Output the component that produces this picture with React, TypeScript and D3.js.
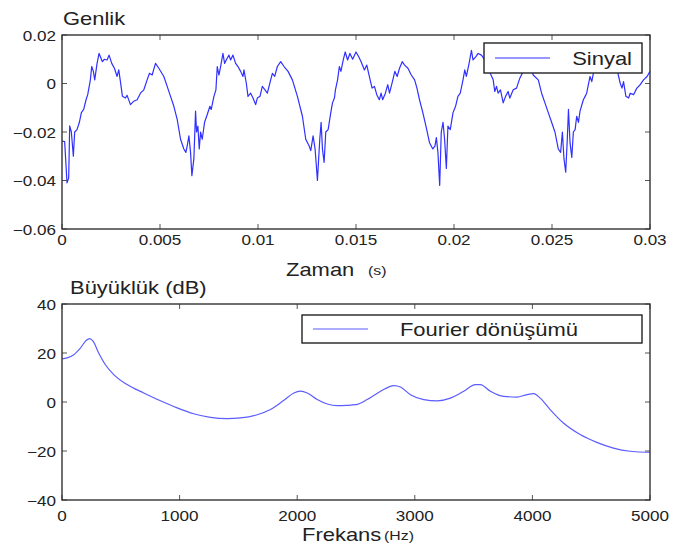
import React, { useRef, useEffect } from 'react';
import * as d3 from 'd3';

// Sinyal (time domain)
const zaman = [
  0, 0.000136, 0.000256, 0.000341, 0.000392, 0.000477, 0.000579, 0.000647, 0.000767, 0.000886,
  0.000988, 0.001107, 0.001227, 0.001312, 0.001448, 0.001516, 0.001601, 0.00167, 0.001789, 0.001891,
  0.001959, 0.002061, 0.002164, 0.0023, 0.002402, 0.002538, 0.002675, 0.002811, 0.002896, 0.002981,
  0.003083, 0.003237, 0.003322, 0.003492, 0.003663, 0.003833, 0.004003, 0.004174, 0.004344, 0.004463,
  0.0046, 0.00477, 0.00494, 0.005196, 0.005366, 0.005537, 0.005707, 0.005877, 0.006048, 0.006218,
  0.00632, 0.006388, 0.006474, 0.006559, 0.006627, 0.006729, 0.006814, 0.006865, 0.006934, 0.007002,
  0.00707, 0.007155, 0.007274, 0.007411, 0.007547, 0.007615, 0.007751, 0.007853, 0.007922, 0.008007,
  0.008092, 0.008211, 0.008296, 0.008399, 0.008518, 0.008603, 0.008722, 0.008859, 0.008978, 0.009114,
  0.009233, 0.009284, 0.009404, 0.009489, 0.009625, 0.009744, 0.009881, 0.009966, 0.010102, 0.010221,
  0.010358, 0.010477, 0.010647, 0.010733, 0.010852, 0.010988, 0.011158, 0.011329, 0.011533, 0.011755,
  0.01201, 0.012266, 0.012436, 0.012606, 0.012692, 0.012811, 0.012913, 0.013032, 0.013152, 0.01322,
  0.013288, 0.013373, 0.013458, 0.013578, 0.013714, 0.0138, 0.0139, 0.01395, 0.01406, 0.01415,
  0.01423, 0.01435, 0.01445, 0.01457, 0.01469, 0.01483, 0.015, 0.01514, 0.01526, 0.01543,
  0.01555, 0.01568, 0.01582, 0.01594, 0.01606, 0.01619, 0.01628, 0.01636, 0.0165, 0.01662,
  0.01671, 0.01688, 0.01698, 0.0171, 0.01722, 0.01736, 0.01748, 0.01765, 0.01782, 0.01799,
  0.01811, 0.01824, 0.01841, 0.01858, 0.01875, 0.01892, 0.01903, 0.0191, 0.01918, 0.01927,
  0.01935, 0.01944, 0.01952, 0.01961, 0.01969, 0.01981, 0.01995, 0.02008, 0.0202, 0.02032,
  0.02046, 0.02055, 0.02063, 0.02077, 0.02089, 0.02097, 0.02111, 0.02123, 0.0214, 0.02157,
  0.02172, 0.02186, 0.022, 0.02208, 0.02217, 0.02225, 0.02237, 0.02251, 0.02263, 0.02276,
  0.02285, 0.02302, 0.02319, 0.02336, 0.02353, 0.0237, 0.02387, 0.02404, 0.0243, 0.02447,
  0.02464, 0.02481, 0.02498, 0.02515, 0.02532, 0.02544, 0.02553, 0.02561, 0.0257, 0.02578,
  0.02584, 0.02592, 0.02601, 0.02609, 0.02618, 0.02626, 0.02635, 0.02643, 0.0266, 0.02669,
  0.02677, 0.02694, 0.02703, 0.02711, 0.02725, 0.0274, 0.02755, 0.0277, 0.02785, 0.028,
  0.02815, 0.02834, 0.02848, 0.02857, 0.02865, 0.02877, 0.02891, 0.02899, 0.02916, 0.02933,
  0.0295, 0.02967, 0.02985, 0.03,
];
const genlik = [
  -0.0237, -0.024, -0.041, -0.039, -0.0175, -0.02, -0.03, -0.02, -0.019, -0.016,
  -0.012, -0.0107, -0.0067, -0.0046, 0.0015, 0.007, 0.005, 0.0015, 0.0083, 0.0124,
  0.011, 0.009, 0.01, 0.0097, 0.0117, 0.0083, 0.0063, 0.0029, 0.0056, 0.0008,
  -0.0053, -0.006, -0.0049, -0.0087, -0.0073, -0.0067, -0.004, -0.0026, 0.0015, 0.0042,
  0.0035, 0.0083, 0.0063, 0.0029, -0.0012, -0.0053, -0.0094, -0.0148, -0.023, -0.027,
  -0.0284, -0.0257, -0.0216, -0.0284, -0.038, -0.031, -0.0114, -0.02, -0.0176, -0.027,
  -0.02, -0.023, -0.016, -0.0128, -0.0094, -0.0107, -0.0053, -0.0026, 0.007, 0.0035,
  0.007, 0.0124, 0.0083, 0.01, 0.0117, 0.0097, 0.0117, 0.0083, 0.007, 0.005,
  0.0029, 0.0056, 0.0001, -0.0053, -0.004, -0.006, -0.0087, -0.006, -0.0053, -0.0012,
  -0.0026, -0.004, 0.0015, 0.0042, 0.0029, 0.007, 0.009, 0.007, 0.005, 0.0015,
  -0.0053, -0.0135, -0.023, -0.0257, -0.0277, -0.0216, -0.027, -0.04, -0.023, -0.016,
  -0.027, -0.0325, -0.02, -0.019, -0.012, -0.008, -0.006, -0.0026, 0.0015, 0.007,
  0.005, 0.0097, 0.013, 0.0097, 0.0124, 0.01, 0.013, 0.011, 0.009, 0.0056,
  0.0076, 0.0029, -0.0019, -0.0012, -0.0046, -0.0067, -0.004, -0.0067, -0.004, -0.0005,
  -0.004, 0.0015, 0.005, 0.0029, 0.0063, 0.009, 0.0076, 0.0063, 0.0035, 0.0015,
  -0.0019, -0.0067, -0.012, -0.018, -0.0244, -0.027, -0.0257, -0.0223, -0.0284, -0.042,
  -0.02, -0.016, -0.023, -0.035, -0.0176, -0.019, -0.012, -0.0094, -0.0053, -0.004,
  0.0015, 0.0056, 0.0029, 0.0083, 0.0137, 0.0097, 0.011, 0.0124, 0.0117, 0.0097,
  0.007, 0.004, 0.0015, -0.0033, -0.0012, -0.004, -0.0026, -0.008, -0.0053, -0.0033,
  -0.006, -0.0026, -0.0019, 0.0022, 0.005, 0.008, 0.009, 0.0035, 0.0015, -0.004,
  -0.008, -0.012, -0.016, -0.02, -0.027, -0.0284, -0.02, -0.031, -0.0366, -0.023,
  -0.0107, -0.0244, -0.0305, -0.02, -0.019, -0.0135, -0.016, -0.0114, -0.0067, -0.0053,
  -0.004, 0.0029, 0.0008, 0.0042, 0.008, 0.011, 0.0095, 0.0125, 0.011, 0.012,
  0.009, 0.005, 0.0001, -0.0019, 0.0008, -0.0053, -0.006, -0.004, -0.0046, -0.0019,
  -0.0005, 0.0015, 0.0029, 0.005,
];

// Fourier dönüşümü (magnitude spectrum)
const frekans = [
  0, 43, 100, 156, 207, 235, 264, 312, 369, 440, 553, 695, 837, 979, 1120, 1262, 1404, 1518,
  1660, 1773, 1887, 1972, 2028, 2085, 2170, 2255, 2340, 2420, 2500, 2595, 2709, 2822, 2878,
  2963, 3076, 3190, 3303, 3416, 3515, 3557, 3642, 3755, 3868, 3953, 4010, 4066, 4151, 4264,
  4406, 4547, 4689, 4830, 4972, 5000,
];
const buyukluk = [
  17.6, 18.0, 19.3, 22.0, 25.2, 25.9, 24.8, 20.0, 15.2, 11.2, 7.1, 3.7, 0.5, -2.4, -4.8, -6.3, -6.8, -6.5,
  -5.2, -3.1, 0.7, 3.7, 4.4, 3.7, 1.0, -0.8, -1.5, -1.4, -1.1, 1.0, 4.4, 6.7, 6.1,
  3.0, 1.0, 0.5, 1.6, 4.4, 7.1, 7.1, 4.4, 2.3, 2.0, 3.0, 3.4, 1.6, -3.1, -8.6,
  -13.3, -16.5, -18.8, -20.1, -20.5, -20.5,
];

const zamanTicks = [0, 0.005, 0.01, 0.015, 0.02, 0.025, 0.03];
const genlikTicks = [0.02, 0, -0.02, -0.04, -0.06];
const frekansTicks = [0, 1000, 2000, 3000, 4000, 5000];
const buyuklukTicks = [40, 20, 0, -20, -40];

const W = 673;
const H = 550;
const FONT = '"Liberation Sans", Arial, sans-serif';
const SX = 1.22; // the reference text is horizontally stretched

const fmt = (v: number) => {
  const s = v === 0 ? '0' : String(Math.abs(v));
  return v < 0 ? '\u2212' + s : s;
};

type Panel = {
  x: number[];
  y: number[];
  xDomain: [number, number];
  yDomain: [number, number];
  xTicks: number[];
  yTicks: number[];
  top: number;
  height: number;
  tickLabelY: number;
  stroke: string;
  strokeWidth: number;
  smooth: boolean;
  title: string;
  titleX: number;
  xLabel: string;
  xUnit: string;
  xLabelX: number;
  xUnitX: number;
  xLabelY: number;
  legend: string;
  legendBox: [number, number, number, number];
  legendLine: [number, number];
  legendTextX: number;
};

const App = () => {
  const svgRef = useRef<SVGSVGElement | null>(null);

  useEffect(() => {
    if (!svgRef.current) return;
    const svg = d3.select(svgRef.current);
    svg.selectAll('*').remove();

    const left = 62;
    const right = 650;

    const addText = (
      g: d3.Selection<SVGGElement, unknown, null, undefined>,
      x: number, y: number, txt: string, size: number, anchor = 'start'
    ) => {
      g.append('text')
        .attr('transform', `translate(${x},${y}) scale(${SX},1)`)
        .attr('text-anchor', anchor)
        .attr('font-size', size)
        .attr('font-family', FONT)
        .attr('fill', '#222')
        .text(txt);
    };

    const panels: Panel[] = [
      {
        x: zaman, y: genlik, xDomain: [0, 0.03], yDomain: [-0.06, 0.02],
        xTicks: zamanTicks, yTicks: genlikTicks, top: 35, height: 194, tickLabelY: 245,
        stroke: '#3030ff', strokeWidth: 1.2, smooth: false,
        title: 'Genlik', titleX: 63, xLabel: 'Zaman', xUnit: '(s)', xLabelX: 286, xUnitX: 368, xLabelY: 276,
        legend: 'Sinyal', legendBox: [484, 43, 158, 30], legendLine: [495, 550], legendTextX: 632,
      },
      {
        x: frekans, y: buyukluk, xDomain: [0, 5000], yDomain: [-40, 40],
        xTicks: frekansTicks, yTicks: buyuklukTicks, top: 304, height: 196, tickLabelY: 521,
        stroke: '#5c5cff', strokeWidth: 1.2, smooth: true,
        title: 'Büyüklük (dB)', titleX: 70, xLabel: 'Frekans', xUnit: '(Hz)', xLabelX: 302, xUnitX: 384, xLabelY: 541,
        legend: 'Fourier dönüşümü', legendBox: [302, 315, 340, 28], legendLine: [313, 368], legendTextX: 578,
      },
    ];

    panels.forEach((p) => {
      const xScale = d3.scaleLinear().domain(p.xDomain).range([left, right]);
      const yScale = d3.scaleLinear().domain(p.yDomain).range([p.top + p.height, p.top]);
      const g = svg.append('g');
      const bottom = p.top + p.height;

      // line
      const line = d3.line<number>()
        .x((_, i) => xScale(p.x[i]))
        .y((d) => yScale(d))
        .curve(p.smooth ? d3.curveMonotoneX : d3.curveLinear);
      g.append('path')
        .datum(p.y)
        .attr('d', line)
        .attr('fill', 'none')
        .attr('stroke', p.stroke)
        .attr('stroke-width', p.strokeWidth)
        .attr('stroke-linejoin', 'round');

      // ticks, inside on all four sides
      const tl = 5;
      p.xTicks.forEach((t) => {
        const x = xScale(t);
        g.append('line').attr('x1', x).attr('x2', x).attr('y1', bottom).attr('y2', bottom - tl)
          .attr('stroke', '#555').attr('stroke-width', 1);
        g.append('line').attr('x1', x).attr('x2', x).attr('y1', p.top).attr('y2', p.top + tl)
          .attr('stroke', '#555').attr('stroke-width', 1);
        addText(g, x, p.tickLabelY, fmt(t), 14, 'middle');
      });
      p.yTicks.forEach((t) => {
        const y = yScale(t);
        g.append('line').attr('x1', left).attr('x2', left + tl).attr('y1', y).attr('y2', y)
          .attr('stroke', '#555').attr('stroke-width', 1);
        g.append('line').attr('x1', right).attr('x2', right - tl).attr('y1', y).attr('y2', y)
          .attr('stroke', '#555').attr('stroke-width', 1);
        addText(g, 56, y + 5.5, fmt(t), 14, 'end');
      });

      // box
      g.append('rect').attr('x', left).attr('y', p.top).attr('width', right - left).attr('height', p.height)
        .attr('fill', 'none').attr('stroke', '#333').attr('stroke-width', 1.4);

      // legend
      const [bx, by, bw, bh] = p.legendBox;
      g.append('rect').attr('x', bx).attr('y', by).attr('width', bw).attr('height', bh)
        .attr('fill', '#fff').attr('stroke', '#222').attr('stroke-width', 1.4);
      g.append('line').attr('x1', p.legendLine[0]).attr('x2', p.legendLine[1])
        .attr('y1', by + bh / 2).attr('y2', by + bh / 2)
        .attr('stroke', p.stroke).attr('stroke-width', 1.2);
      addText(g, p.legendTextX, by + bh / 2 + 6.5, p.legend, 18, 'end');

      // titles
      addText(g, p.titleX, p.top - 10, p.title, 18);
      addText(g, p.xLabelX, p.xLabelY, p.xLabel, 18);
      addText(g, p.xUnitX, p.xLabelY - 1, p.xUnit, 13);
    });
  }, []);

  return (
    <div style={{ position: 'absolute', left: 0, top: 0, background: '#fff' }}>
      <svg ref={svgRef} width={W} height={H} style={{ display: 'block' }} />
    </div>
  );
};

export default App;
